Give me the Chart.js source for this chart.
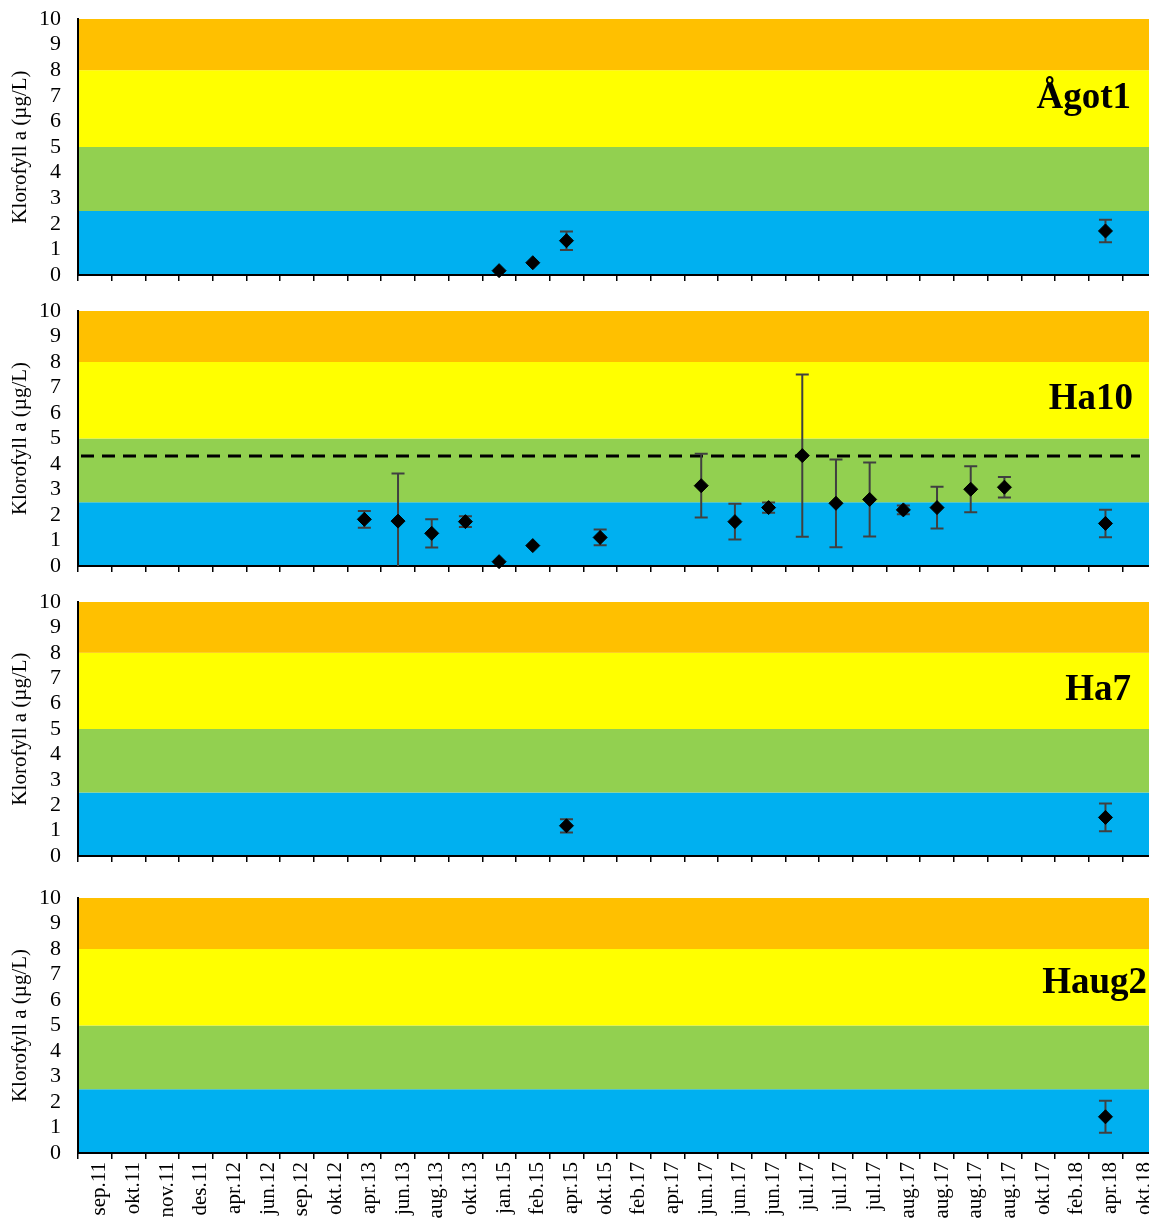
<!DOCTYPE html>
<html>
<head>
<meta charset="utf-8">
<script src="https://cdn.jsdelivr.net/npm/chart.js@4.4.1/dist/chart.umd.min.js"></script>
<style>
html,body{margin:0;padding:0;background:#fff;overflow:hidden;}
#wrap{position:relative;width:1149px;height:1222px;overflow:hidden;}
#wrap canvas{position:absolute;left:0;}
</style>
</head>
<body>
<div id="wrap">
<canvas id="c0" width="1156" height="285" style="top:0px;width:1156px;height:285px"></canvas>
<canvas id="c1" width="1156" height="284" style="top:292px;width:1156px;height:284px"></canvas>
<canvas id="c2" width="1156" height="283" style="top:583px;width:1156px;height:283px"></canvas>
<canvas id="c3" width="1156" height="364" style="top:879px;width:1156px;height:364px"></canvas>
</div>
<script>
// ---------- data ----------
const categories = ['sep.11','okt.11','nov.11','des.11','apr.12','jun.12','sep.12','okt.12',
  'apr.13','jun.13','aug.13','okt.13','jan.15','feb.15','apr.15','okt.15',
  'feb.17','apr.17','jun.17','jun.17','jun.17','jul.17','jul.17','jul.17',
  'aug.17','aug.17','aug.17','aug.17','okt.17','feb.18','apr.18','okt.18'];

const yTicks = [0,1,2,3,4,5,6,7,8,9,10];
const bandLimits = [0, 2.5, 5, 8, 10];
const bandColors = ['#00B0F0', '#92D050', '#FFFF00', '#FFC000'];

const agot1Values = [null,null,null,null,null,null,null,null,null,null,null,null,0.17,0.48,1.34,null,null,null,null,null,null,null,null,null,null,null,null,null,null,null,1.72,null];
const agot1Errors = [0,0,0,0,0,0,0,0,0,0,0,0,0,0,0.36,0,0,0,0,0,0,0,0,0,0,0,0,0,0,0,0.44,0];

const ha10Values = [null,null,null,null,null,null,null,null,1.83,1.76,1.28,1.74,0.17,0.80,null,1.12,null,null,3.15,1.74,2.29,4.33,2.46,2.61,2.20,2.29,3.01,3.09,null,null,1.67,null];
const ha10Errors = [0,0,0,0,0,0,0,0,0.33,1.87,0.55,0.21,0,0,0,0.31,0,0,1.25,0.70,0.20,3.18,1.72,1.45,0.17,0.82,0.90,0.40,0,0,0.54,0];
const ha10Threshold = 4.31;

const ha7Values = [null,null,null,null,null,null,null,null,null,null,null,null,null,null,1.19,null,null,null,null,null,null,null,null,null,null,null,null,null,null,null,1.52,null];
const ha7Errors = [0,0,0,0,0,0,0,0,0,0,0,0,0,0,0.26,0,0,0,0,0,0,0,0,0,0,0,0,0,0,0,0.55,0];

const haug2Values = [null,null,null,null,null,null,null,null,null,null,null,null,null,null,null,null,null,null,null,null,null,null,null,null,null,null,null,null,null,null,1.42,null];
const haug2Errors = [0,0,0,0,0,0,0,0,0,0,0,0,0,0,0,0,0,0,0,0,0,0,0,0,0,0,0,0,0,0,0.63,0];

const yTitle = 'Klorofyll a (µg/L)';
const FONT = '"Liberation Serif", "Times New Roman", serif';

// ---------- plugins ----------
const bandsPlugin = {
  id: 'bands',
  beforeDraw(chart) {
    const {ctx, chartArea: a, scales: {y}} = chart;
    ctx.save();
    for (let i = 0; i < bandColors.length; i++) {
      const top = y.getPixelForValue(bandLimits[i + 1]);
      const bot = y.getPixelForValue(bandLimits[i]);
      ctx.fillStyle = bandColors[i];
      ctx.fillRect(a.left, top, a.right - a.left, bot - top);
    }
    ctx.restore();
  }
};

const thresholdPlugin = {
  id: 'threshold',
  beforeDatasetsDraw(chart, args, opts) {
    if (opts.value == null) return;
    const {ctx, chartArea: a, scales: {y}} = chart;
    const py = y.getPixelForValue(opts.value);
    ctx.save();
    ctx.strokeStyle = '#000';
    ctx.lineWidth = 3;
    ctx.setLineDash([13, 8]);
    ctx.lineDashOffset = -3;
    ctx.beginPath();
    ctx.moveTo(a.left, py);
    ctx.lineTo(a.right - 16, py);
    ctx.stroke();
    ctx.restore();
  }
};

const errorBarPlugin = {
  id: 'errorBars',
  beforeDatasetsDraw(chart) {
    const {ctx, chartArea: a, scales: {x, y}} = chart;
    ctx.save();
    ctx.beginPath();
    ctx.rect(a.left, a.top, a.right - a.left, a.bottom - a.top);
    ctx.clip();
    ctx.strokeStyle = '#404040';
    ctx.lineWidth = 2;
    chart.data.datasets.forEach(ds => {
      if (!ds.errors) return;
      ds.data.forEach((v, i) => {
        const e = ds.errors[i];
        if (v == null || !e) return;
        const px = x.getPixelForValue(i);
        const pt = y.getPixelForValue(v + e);
        const pb = y.getPixelForValue(v - e);
        const cap = 6.5;
        ctx.beginPath();
        ctx.moveTo(px, pt); ctx.lineTo(px, pb);
        ctx.moveTo(px - cap, pt); ctx.lineTo(px + cap, pt);
        ctx.moveTo(px - cap, pb); ctx.lineTo(px + cap, pb);
        ctx.stroke();
      });
    });
    ctx.restore();
  }
};

const stationLabelPlugin = {
  id: 'stationLabel',
  afterDatasetsDraw(chart, args, opts) {
    const {ctx, chartArea: a} = chart;
    ctx.save();
    ctx.font = 'bold 37px ' + FONT;
    ctx.fillStyle = '#000';
    ctx.textAlign = 'right';
    ctx.textBaseline = 'alphabetic';
    ctx.fillText(opts.text, a.right - opts.right, a.top + opts.baseline);
    ctx.restore();
  }
};

function pointDataset(values, errors) {
  return {
    data: values,
    errors: errors,
    showLine: false,
    pointStyle: 'rectRot',
    pointRadius: 7,
    pointHoverRadius: 7,
    pointBackgroundColor: '#000',
    pointBorderColor: '#000',
    pointBorderWidth: 1,
    borderColor: '#000',
    backgroundColor: '#000',
    clip: false
  };
}

function makeChart(id, datasets, label, threshold, showLabels, xHeight) {
  return new Chart(document.getElementById(id), {
    type: 'line',
    data: { labels: categories, datasets: datasets },
    options: {
      responsive: false,
      animation: false,
      devicePixelRatio: 1,
      events: [],
      layout: { autoPadding: false, padding: { top: 19, right: 0, bottom: 0, left: 0 } },
      plugins: {
        legend: { display: false },
        tooltip: { enabled: false },
        stationLabel: label,
        threshold: { value: threshold }
      },
      scales: {
        x: {
          type: 'category',
          offset: true,
          grid: { display: true, offset: true, drawOnChartArea: false, drawTicks: true, tickLength: 6, color: '#000', lineWidth: 1.5 },
          border: { display: true, color: '#000', width: 2 },
          ticks: {
            display: showLabels, autoSkip: false, minRotation: 90, maxRotation: 90,
            font: { family: FONT, size: 21 }, color: '#000', padding: 3, labelOffset: 5
          },
          afterFit: s => { s.height = xHeight; s.paddingLeft = 0; s.paddingRight = 0; }
        },
        y: {
          min: 0, max: 10,
          afterBuildTicks: s => { s.ticks = yTicks.map(v => ({ value: v })); },
          ticks: { autoSkip: false, font: { family: FONT, size: 22 }, color: '#000', padding: 17 },
          grid: { display: false, drawTicks: false },
          border: { display: true, color: '#000', width: 2 },
          title: { display: true, text: yTitle, font: { family: FONT, size: 21 }, color: '#000', padding: { top: 8, bottom: 0 } },
          afterFit: s => { s.width = 78; s.paddingTop = 0; s.paddingBottom = 0; }
        }
      }
    },
    plugins: [bandsPlugin, thresholdPlugin, errorBarPlugin, stationLabelPlugin]
  });
}

makeChart('c0', [pointDataset(agot1Values, agot1Errors)],
  { text: 'Ågot1', right: 25, baseline: 89 }, null, false, 10);

makeChart('c1', [pointDataset(ha10Values, ha10Errors)],
  { text: 'Ha10', right: 23, baseline: 98 }, ha10Threshold, false, 10);

makeChart('c2', [pointDataset(ha7Values, ha7Errors)],
  { text: 'Ha7', right: 25, baseline: 98 }, null, false, 10);

makeChart('c3', [pointDataset(haug2Values, haug2Errors)],
  { text: 'Haug2', right: 9, baseline: 95 }, null, true, 90);
</script>
</body>
</html>
